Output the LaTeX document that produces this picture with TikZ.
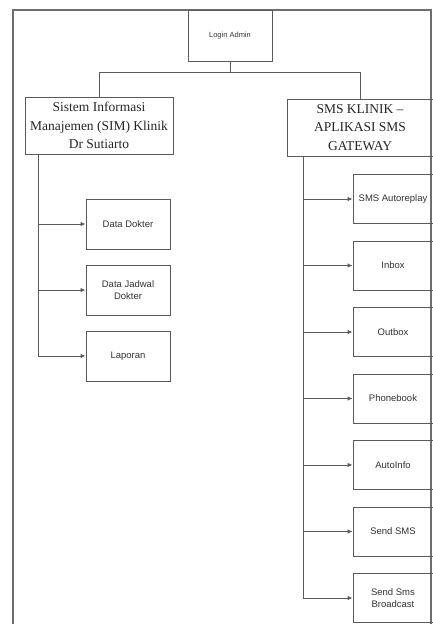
\documentclass[tikz,border=0pt]{standalone}
\usepackage{fontspec}
\setmainfont{Liberation Serif}
\setsansfont{Liberation Sans}
\usetikzlibrary{arrows.meta}
\definecolor{ink}{HTML}{5A5A5A}
\definecolor{frame}{HTML}{6E6E6E}
\tikzset{
  mainbox/.style={draw=ink, line width=0.9pt, rectangle, align=center,
    font=\fontsize{13.5}{18.5}\selectfont, text=black!85, inner sep=0pt},
  subbox/.style={draw=ink, line width=0.9pt, rectangle, align=center,
    font=\sffamily\fontsize{9.5}{12}\selectfont, text=black!80, inner sep=0pt},
  link/.style={draw=ink, line width=0.9pt},
  feed/.style={link, -{Latex[length=5pt,width=4.5pt]}},
}
\begin{document}
\begin{tikzpicture}[x=1pt, y=-1pt]
  \useasboundingbox (0,0) rectangle (433,624);
  % outer frame
  \draw[frame, line width=2pt] (13,640) -- (13,9.5) -- (431,9.5) -- (431,640);

  % root
  \node[subbox, minimum width=84pt, minimum height=51pt,
        font=\sffamily\fontsize{7.5}{9}\selectfont] (root) at (230,35.5) {Login Admin};

  % two main modules
  \node[mainbox, minimum width=148pt, minimum height=57pt] (sim) at (99,125.5)
    {Sistem Informasi\\Manajemen (SIM) Klinik\\Dr Sutiarto};
  \node[mainbox, minimum width=146pt, minimum height=57pt] (sms) at (360,127.5)
    {SMS KLINIK --\\APLIKASI SMS\\GATEWAY};

  \coordinate (j) at (230,72);
  \draw[link] (root.south) -- (j);
  \draw[link] (j) -| (sim.north);
  \draw[link] (j) -| (sms.north);

  % SIM sub-menus
  \tikzset{lsub/.style={subbox, minimum width=84pt, minimum height=50pt}}
  \node[lsub] (d1) at (128,224) {Data Dokter};
  \node[lsub] (d2) at (128,290) {Data Jadwal\\Dokter};
  \node[lsub] (d3) at (128,356) {Laporan};

  \coordinate (lbus) at (38,0);
  \draw[link] (lbus |- sim.south) -- (lbus |- d3.west);
  \foreach \n in {d1,d2,d3}
    \draw[feed] (lbus |- \n.west) -- (\n.west);

  % SMS gateway sub-menus
  \tikzset{rsub/.style={subbox, minimum width=80pt, minimum height=49pt}}
  \node[rsub] (s1) at (393,199)   {SMS Autoreplay};
  \node[rsub] (s2) at (393,265.5) {Inbox};
  \node[rsub] (s3) at (393,332)   {Outbox};
  \node[rsub] (s4) at (393,398.5) {Phonebook};
  \node[rsub] (s5) at (393,465)   {AutoInfo};
  \node[rsub] (s6) at (393,531.5) {Send SMS};
  \node[rsub] (s7) at (393,598)   {Send Sms\\Broadcast};

  \coordinate (rbus) at (303,0);
  \draw[link] (rbus |- sms.south) -- (rbus |- s7.west);
  \foreach \n in {s1,s2,s3,s4,s5,s6,s7}
    \draw[feed] (rbus |- \n.west) -- (\n.west);
\end{tikzpicture}
\end{document}
